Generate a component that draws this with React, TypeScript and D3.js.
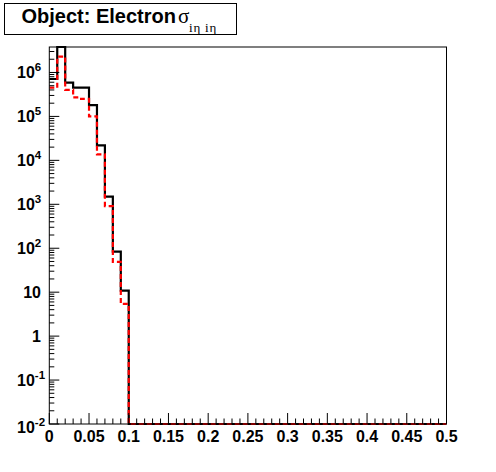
import React from "react";
import * as d3 from "d3";

const W = 496;
const H = 472;

// Bin lower edges (bin width 0.01) from 0 to 0.49
const binLow = [
  0, 0.01, 0.02, 0.03, 0.04, 0.05, 0.06, 0.07, 0.08, 0.09,
  0.1, 0.11, 0.12, 0.13, 0.14, 0.15, 0.16, 0.17, 0.18, 0.19,
  0.2, 0.21, 0.22, 0.23, 0.24, 0.25, 0.26, 0.27, 0.28, 0.29,
  0.3, 0.31, 0.32, 0.33, 0.34, 0.35, 0.36, 0.37, 0.38, 0.39,
  0.4, 0.41, 0.42, 0.43, 0.44, 0.45, 0.46, 0.47, 0.48, 0.49,
];
const binWidth = 0.01;

const blackValues = [
  7.1e5, 3.8e6, 5.9e5, 4.5e5, 4.5e5, 1.8e5, 2.2e4, 1.5e3, 84, 10.8,
  0, 0, 0, 0, 0, 0, 0, 0, 0, 0,
  0, 0, 0, 0, 0, 0, 0, 0, 0, 0,
  0, 0, 0, 0, 0, 0, 0, 0, 0, 0,
  0, 0, 0, 0, 0, 0, 0, 0, 0, 0,
];
const redValues = [
  4.5e5, 2.3e6, 4.0e5, 2.7e5, 2.5e5, 1.0e5, 1.37e4, 9.1e2, 49, 5.4,
  0, 0, 0, 0, 0, 0, 0, 0, 0, 0,
  0, 0, 0, 0, 0, 0, 0, 0, 0, 0,
  0, 0, 0, 0, 0, 0, 0, 0, 0, 0,
  0, 0, 0, 0, 0, 0, 0, 0, 0, 0,
];

const xTickLabels = ["0", "0.05", "0.1", "0.15", "0.2", "0.25", "0.3", "0.35", "0.4", "0.45", "0.5"];
const yDomain = [0.01, 3.8e6];

const FL = 49.3;
const FR = 446.5;
const FT = 47;
const FB = 424;
const FONT = "'Liberation Sans', Arial, Helvetica, sans-serif";

export default function App() {
  const x = d3.scaleLinear().domain([0, 0.5]).range([FL, FR]);
  const y = d3.scaleLog().domain(yDomain).range([FB, FT]);
  const yv = (v: number) => (v <= yDomain[0] ? FB : y(v));

  const stepPts = (vals: number[]) => {
    const pts: [number, number][] = [];
    vals.forEach((v, i) => {
      pts.push([x(binLow[i]), yv(v)]);
      pts.push([x(binLow[i] + binWidth), yv(v)]);
    });
    return pts;
  };
  const line = d3.line<[number, number]>().x((d) => d[0]).y((d) => d[1]);

  const xMinor = d3.range(0, 51).map((i) => i * 0.01);
  const yTicks = y.ticks();
  const isPow10 = (v: number) => Math.abs(Math.log10(v) - Math.round(Math.log10(v))) < 1e-9;

  return (
    <svg width={W} height={H} style={{ position: "fixed", left: 0, top: 0, background: "#fff" }}>
      <rect x={0} y={0} width={W} height={H} fill="#fff" />
      <defs>
        <clipPath id="frameClip">
          <rect x={FL} y={FT - 1} width={FR - FL} height={FB - FT + 2} />
        </clipPath>
      </defs>
      {/* histograms */}
      <g clipPath="url(#frameClip)">
        <path d={line(stepPts(blackValues)) || ""} fill="none" stroke="#000" strokeWidth={2.2} />
        <path d={line(stepPts(redValues)) || ""} fill="none" stroke="#ff0000" strokeWidth={2.2} strokeDasharray="5,3" />
      </g>
      {/* frame */}
      <rect x={FL} y={FT} width={FR - FL} height={FB - FT} fill="none" stroke="#000" strokeWidth={1} />
      {/* x ticks */}
      {xMinor.map((v, i) => {
        const major = i % 5 === 0;
        return (
          <line key={"xt" + i} x1={x(v)} x2={x(v)} y1={FB} y2={FB - (major ? 11 : 5.5)} stroke="#000" strokeWidth={1} />
        );
      })}
      {xTickLabels.map((t, i) => (
        <text key={"xl" + i} x={x(+t)} y={442} textAnchor="middle" fontFamily={FONT} fontWeight="bold" fontSize={16}>
          {t}
        </text>
      ))}
      {/* y ticks */}
      {yTicks.map((v, i) => {
        const major = isPow10(v);
        return (
          <line key={"yt" + i} x1={FL} x2={FL + (major ? 10 : 5)} y1={y(v)} y2={y(v)} stroke="#000" strokeWidth={1} />
        );
      })}
      {yTicks.filter(isPow10).map((v, i) => {
        const k = Math.round(Math.log10(v));
        const isSup = k !== 0 && k !== 1;
        const yy = y(v) + 6 + (k === -2 ? 3 : 0);
        if (!isSup) {
          return (
            <text key={"yl" + i} x={41} y={yy} textAnchor="end" fontFamily={FONT} fontWeight="bold" fontSize={16}>
              {k === 0 ? "1" : "10"}
            </text>
          );
        }
        return (
          <text key={"yl" + i} x={17} y={yy} fontFamily={FONT} fontWeight="bold" fontSize={16}>
            <tspan>10</tspan>
            <tspan fontSize={11.5} dy={-7}>{String(k)}</tspan>
          </text>
        );
      })}
      {/* title box */}
      <rect x={4.5} y={3.5} width={232} height={31} fill="#fff" stroke="#000" strokeWidth={1} />
      <text x={21.5} y={23} fontFamily={FONT} fontWeight="bold" fontSize={20}>
        Object: Electron
      </text>
      <text x={178} y={23} fontFamily="'Liberation Serif', 'DejaVu Serif', serif" fontSize={21}>
        σ
      </text>
      <text x={189} y={32} fontFamily="'Liberation Serif', 'DejaVu Serif', serif" fontSize={13} letterSpacing={0.8}>
        iη iη
      </text>
    </svg>
  );
}
